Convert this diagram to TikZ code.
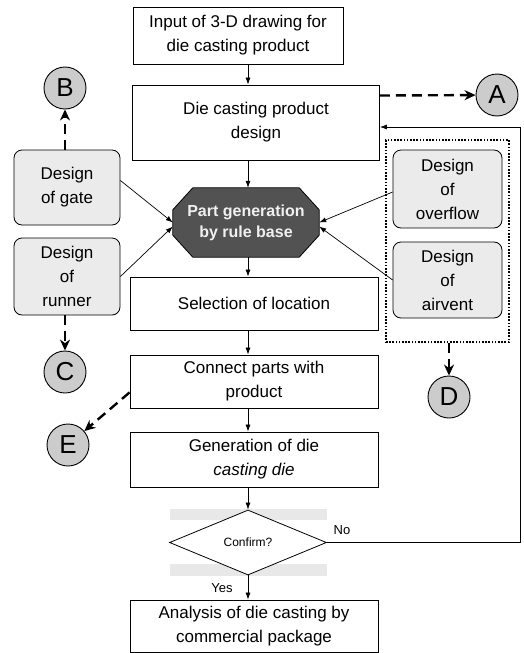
\documentclass[tikz,border=0pt]{standalone}
\usepackage{fontspec}
\setmainfont{Liberation Sans}
\usetikzlibrary{arrows.meta,shapes.geometric}

\begin{document}
\begin{tikzpicture}[x=1pt,y=-1pt,
        box/.style={draw,line width=0.8pt,align=center,inner sep=0pt,font=\fontsize{17}{24}\selectfont},
        sidebox/.style={box,rounded corners=8pt,fill=gray!16},
        letter/.style={circle,draw,line width=0.9pt,fill=gray!40,minimum size=42pt,inner sep=0pt,font=\fontsize{26}{26}\selectfont},
        flow/.style={-{Latex[length=7pt,width=5pt]},line width=0.7pt},
        jump/.style={-{Stealth[length=11pt,width=10pt]},line width=2.4pt,dash pattern=on 10pt off 6pt}]
        \useasboundingbox (0,0) rectangle (524,653);

        % Coordinates
        \coordinate (axis) at (248,0);
        \coordinate (loop) at (520,127);

        % Main flow
        \node[box,minimum width=210pt,minimum height=57pt] (input) at (238,35.5) {Input of 3-D drawing for\\die casting product};
        \node[box,minimum width=247pt,minimum height=75pt] (product) at (256,122.5) {Die casting product\\design};
        \node[minimum width=146pt,minimum height=69pt,inner sep=0pt] (rulebase) at (246,222.5) {};
        \filldraw[line width=0.8pt,fill=black!68]
            ([xshift=20pt]rulebase.north west) -- ([xshift=-20pt]rulebase.north east)
            -- ([yshift=-22pt]rulebase.north east) -- ([yshift=22pt]rulebase.south east)
            -- ([xshift=-20pt]rulebase.south east) -- ([xshift=20pt]rulebase.south west)
            -- ([yshift=22pt]rulebase.south west) -- ([yshift=-22pt]rulebase.north west) -- cycle;
        \node[align=center,text=gray!12,font=\fontsize{16}{21}\selectfont\bfseries] (rulebasetext) at (rulebase) {Part generation\\by rule base};
        \node[box,minimum width=248pt,minimum height=53pt] (selection) at (254,303.5) {Selection of location};
        \node[box,minimum width=248pt,minimum height=53pt] (connect) at (254,381.5) {Connect parts with\\product};
        \node[box,minimum width=248pt,minimum height=55pt] (dieout) at (254,459.5) {Generation of die\\\textit{casting die}};
        \fill[gray!18] (170,509) rectangle (327,520);
        \fill[gray!18] (170,564) rectangle (327,576);
        \node[diamond,draw,fill=white,line width=0.8pt,minimum width=157pt,minimum height=65pt,inner sep=0pt,
              font=\fontsize{12}{12}\selectfont] (confirm) at (248,542.5) {Confirm?};
        \node[box,minimum width=248pt,minimum height=52pt] (analysis) at (254,626) {Analysis of die casting by\\commercial package};
        \node[font=\fontsize{13}{13}\selectfont] (no) at (342,530) {No};
        \node[font=\fontsize{13}{13}\selectfont] (yes) at (222,588) {Yes};

        % Side parts
        \node[sidebox,minimum width=106pt,minimum height=75pt] (gate) at (67,187.5) {Design\\of gate};
        \node[sidebox,minimum width=106pt,minimum height=77pt] (runner) at (67,276.5) {Design\\of\\runner};
        \node[sidebox,minimum width=109pt,minimum height=78pt] (overflow) at (447.5,189) {Design\\of\\overflow};
        \node[sidebox,minimum width=109pt,minimum height=76pt] (airvent) at (447.5,280) {Design\\of\\airvent};
        \node[draw,line width=1.6pt,dash pattern=on 1.6pt off 1.6pt,minimum width=123pt,minimum height=202pt] (ventgroup) at (447.5,241) {};

        % Links
        \node[letter] (A) at (497,95) {A};
        \node[letter] (B) at (65,88) {B};
        \node[letter] (C) at (65,372) {C};
        \node[letter] (D) at (449,397) {D};
        \node[letter] (E) at (68,445) {E};

        % Drawing
        \draw[flow] (input.south -| axis) -- (product.north -| axis);
        \draw[flow] (product.south -| axis) -- (rulebase.north -| axis);
        \draw[flow] (rulebase.south -| axis) -- (selection.north -| axis);
        \draw[flow] (selection.south -| axis) -- (connect.north -| axis);
        \draw[flow] (connect.south -| axis) -- (dieout.north -| axis);
        \draw[flow] (dieout.south -| axis) -- (confirm.north);
        \draw[flow] (confirm.south) -- (analysis.north -| axis);
        \draw[flow] (confirm.east) -| (loop) -- (loop -| product.east);
        \draw[flow] ([yshift=7pt]gate.east) -- (rulebase.west);
        \draw[flow] (runner.east) -- ([yshift=-4pt]rulebase.west);
        \draw[flow] ([yshift=-3pt]overflow.west) -- (rulebase.east);
        \draw[flow] (airvent.west) -- ([yshift=-4pt]rulebase.east);
        \draw[jump] ([yshift=27pt]product.east) -- (A);
        \draw[jump] (gate.north -| B) -- (B);
        \draw[jump] (runner.south -| C) -- (C);
        \draw[jump] (ventgroup.south -| D) -- (D);
        \draw[jump] ([yshift=16pt]connect.south west) -- (E);
    \end{tikzpicture}
\end{document}
